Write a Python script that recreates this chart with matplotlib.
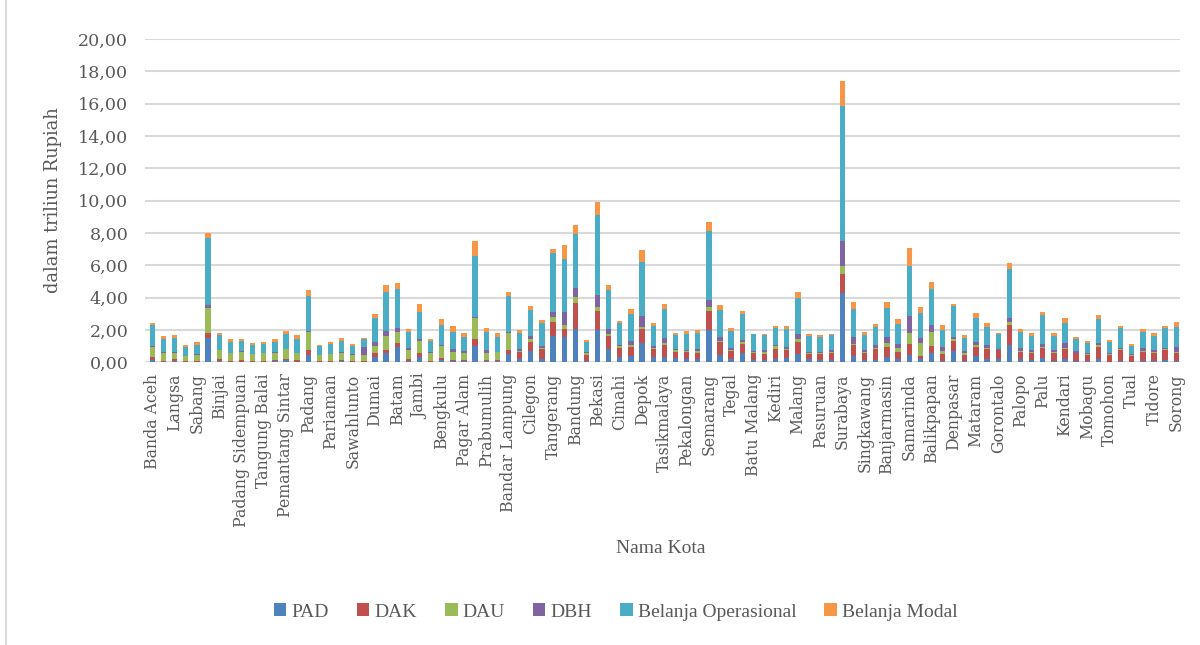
import matplotlib
matplotlib.use("Agg")
import matplotlib.pyplot as plt
from matplotlib.lines import Line2D
from matplotlib.font_manager import FontProperties
import numpy as np

# city names printed on the axis (every second bar carries a label)
kota = ["Banda Aceh", "Langsa", "Sabang", "Binjai", "Padang Sidempuan",
        "Tangung Balai", "Pemantang Sintar", "Padang", "Pariaman", "Sawahlunto",
        "Dumai", "Batam", "Jambi", "Bengkulu", "Pagar Alam", "Prabumulih",
        "Bandar Lampung", "Cilegon", "Tangerang", "Bandung", "Bekasi", "Cimahi",
        "Depok", "Tasikmalaya", "Pekalongan", "Semarang", "Tegal", "Batu Malang",
        "Kediri", "Malang", "Pasuruan", "Surabaya", "Singkawang", "Banjarmasin",
        "Samarinda", "Balikpapan", "Denpasar", "Mataram", "Gorontalo", "Palopo",
        "Palu", "Kendari", "Mobagu", "Tomohon", "Tual", "Tidore", "Sorong"]

# values in trillion rupiah, one entry per city bar (93 bars)
pad = [0.15, 0.03, 0.10, 0.02, 0.03, 1.48, 0.10, 0.02, 0.04, 0.03,
       0.04, 0.05, 0.14, 0.04, 0.47, 0.02, 0.02, 0.07, 0.03, 0.03,
       0.35, 0.58, 0.95, 0.10, 0.33, 0.04, 0.14, 0.06, 0.08, 1.00,
       0.08, 0.10, 0.52, 0.19, 0.68, 0.19, 1.65, 1.55, 2.04, 0.10,
       2.02, 0.85, 0.35, 0.41, 1.18, 0.33, 0.33, 0.29, 0.19, 0.19,
       2.02, 0.45, 0.23, 0.56, 0.12, 0.14, 0.23, 0.25, 0.49, 0.19,
       0.12, 0.16, 4.27, 0.39, 0.14, 0.14, 0.31, 0.21, 0.45, 0.19,
       0.60, 0.08, 0.70, 0.06, 0.39, 0.19, 0.21, 1.05, 0.19, 0.14,
       0.25, 0.08, 0.19, 0.06, 0.06, 0.21, 0.04, 0.10, 0.04, 0.06,
       0.06, 0.14, 0.10]
dak = [0.20, 0.08, 0.10, 0.03, 0.06, 0.35, 0.10, 0.06, 0.10, 0.07,
       0.06, 0.08, 0.08, 0.08, 0.29, 0.04, 0.06, 0.08, 0.05, 0.04,
       0.20, 0.18, 0.25, 0.10, 0.27, 0.06, 0.14, 0.10, 0.08, 0.47,
       0.08, 0.06, 0.25, 0.45, 0.60, 0.62, 0.85, 0.54, 1.63, 0.37,
       1.18, 0.80, 0.56, 0.56, 0.87, 0.47, 0.74, 0.37, 0.45, 0.41,
       1.18, 0.78, 0.47, 0.60, 0.45, 0.39, 0.62, 0.49, 0.78, 0.33,
       0.41, 0.41, 1.22, 0.70, 0.45, 0.68, 0.66, 0.45, 0.68, 0.23,
       0.43, 0.43, 0.62, 0.41, 0.56, 0.62, 0.52, 1.26, 0.45, 0.45,
       0.66, 0.49, 0.64, 0.49, 0.37, 0.76, 0.41, 0.66, 0.33, 0.58,
       0.54, 0.60, 0.45]
dau = [0.58, 0.45, 0.40, 0.35, 0.37, 1.55, 0.56, 0.50, 0.52, 0.42,
       0.46, 0.44, 0.60, 0.45, 1.09, 0.39, 0.43, 0.45, 0.39, 0.41,
       0.45, 0.87, 0.66, 0.54, 0.72, 0.45, 0.72, 0.50, 0.39, 1.30,
       0.43, 0.45, 1.05, 0.04, 0.16, 0.10, 0.31, 0.23, 0.37, 0.10,
       0.21, 0.10, 0.10, 0.10, 0.16, 0.10, 0.12, 0.08, 0.04, 0.10,
       0.21, 0.10, 0.06, 0.08, 0.04, 0.10, 0.14, 0.10, 0.16, 0.06,
       0.06, 0.06, 0.45, 0.04, 0.04, 0.06, 0.23, 0.21, 0.66, 0.76,
       0.85, 0.19, 0.12, 0.08, 0.12, 0.06, 0.02, 0.19, 0.04, 0.04,
       0.06, 0.04, 0.08, 0.04, 0.06, 0.08, 0.04, 0.06, 0.06, 0.04,
       0.04, 0.06, 0.10]
dbh = [0.05, 0.05, 0.04, 0.02, 0.04, 0.16, 0.02, 0.02, 0.02, 0.02,
       0.02, 0.04, 0.03, 0.02, 0.06, 0.03, 0.03, 0.04, 0.04, 0.45,
       0.23, 0.31, 0.29, 0.12, 0.10, 0.06, 0.04, 0.16, 0.16, 0.02,
       0.19, 0.04, 0.06, 0.12, 0.21, 0.12, 0.27, 0.82, 0.58, 0.04,
       0.76, 0.29, 0.08, 0.27, 0.68, 0.12, 0.29, 0.10, 0.10, 0.14,
       0.45, 0.25, 0.12, 0.14, 0.06, 0.12, 0.06, 0.12, 0.33, 0.06,
       0.06, 0.12, 1.59, 0.41, 0.14, 0.16, 0.37, 0.29, 1.09, 0.35,
       0.43, 0.27, 0.10, 0.12, 0.19, 0.21, 0.06, 0.25, 0.21, 0.12,
       0.19, 0.12, 0.29, 0.08, 0.08, 0.12, 0.06, 0.08, 0.06, 0.21,
       0.12, 0.08, 0.31]
belanja_operasional = [1.30, 0.83, 0.88, 0.52, 0.60, 4.16, 0.89, 0.68, 0.66, 0.55,
                       0.58, 0.65, 0.93, 0.82, 2.19, 0.52, 0.62, 0.70, 0.52, 0.52,
                       1.48, 2.43, 2.41, 1.01, 1.69, 0.70, 1.24, 1.07, 0.85, 3.81,
                       1.11, 0.93, 2.19, 0.99, 1.59, 1.38, 3.65, 3.24, 3.34, 0.62,
                       4.95, 2.43, 1.32, 1.65, 3.32, 1.24, 1.79, 0.82, 0.99, 0.95,
                       4.27, 1.65, 1.07, 1.63, 1.05, 0.91, 1.09, 1.07, 2.23, 0.99,
                       0.89, 0.93, 8.32, 1.73, 0.89, 1.13, 1.81, 1.20, 3.09, 1.51,
                       2.21, 1.03, 1.94, 0.85, 1.51, 1.13, 0.95, 3.05, 0.97, 0.89,
                       1.77, 0.91, 1.24, 0.76, 0.62, 1.53, 0.70, 1.20, 0.54, 0.99,
                       0.87, 1.26, 1.24]
belanja_modal = [0.17, 0.20, 0.19, 0.13, 0.16, 0.31, 0.12, 0.16, 0.10, 0.10,
                 0.08, 0.16, 0.18, 0.26, 0.37, 0.10, 0.11, 0.14, 0.10, 0.06,
                 0.27, 0.41, 0.33, 0.17, 0.47, 0.15, 0.38, 0.35, 0.25, 0.91,
                 0.25, 0.21, 0.29, 0.21, 0.25, 0.21, 0.27, 0.85, 0.56, 0.12,
                 0.80, 0.31, 0.12, 0.31, 0.72, 0.14, 0.35, 0.14, 0.16, 0.21,
                 0.56, 0.31, 0.16, 0.19, 0.06, 0.12, 0.10, 0.21, 0.35, 0.12,
                 0.12, 0.08, 1.57, 0.43, 0.21, 0.19, 0.35, 0.33, 1.09, 0.35,
                 0.45, 0.31, 0.10, 0.14, 0.25, 0.25, 0.06, 0.35, 0.23, 0.16,
                 0.21, 0.16, 0.33, 0.12, 0.14, 0.21, 0.12, 0.16, 0.12, 0.21,
                 0.16, 0.10, 0.31]

series = [("PAD", pad, "#4F81BD"),
          ("DAK", dak, "#C0504D"),
          ("DAU", dau, "#9BBB59"),
          ("DBH", dbh, "#8064A2"),
          ("Belanja Operasional", belanja_operasional, "#4BACC6"),
          ("Belanja Modal", belanja_modal, "#F79646")]

teks = "#595959"
serif_narrow = ["Liberation Serif", "DejaVu Serif"]

fig = plt.figure(figsize=(12, 6.45), dpi=100)
ax = fig.add_axes([0.1208, 0.4383, 0.8622, 0.5014])

x = np.arange(len(pad))
bottom = np.zeros(len(pad))
for nama, nilai, warna in series:
    nilai = np.array(nilai)
    ax.bar(x, nilai, width=0.48, bottom=bottom, color=warna, label=nama,
           linewidth=0, zorder=3)
    bottom += nilai

ax.set_ylim(0, 20)
ax.set_xlim(-0.67, 92.3)
yticks = np.arange(0, 21, 2)
ax.set_yticks(yticks)
ax.set_yticklabels([("%.2f" % v).replace(".", ",") for v in yticks],
                   fontsize=12.6, family="DejaVu Serif", color=teks)
ax.set_xticks(x[::2])
ax.set_xticklabels(kota, rotation=90, fontsize=11.3, family="DejaVu Serif",
                   color=teks)
ax.tick_params(axis="both", length=0)
ax.tick_params(axis="y", pad=12)
ax.tick_params(axis="x", pad=8)

ax.grid(axis="y", color="#D9D9D9", linewidth=1.5, zorder=0)
for side in ["top", "right", "left", "bottom"]:
    ax.spines[side].set_visible(False)

fig.text(0.044, 0.69, "dalam triliun Rupiah", rotation=90, ha="center",
         va="center", fontsize=12.9, family="DejaVu Serif", color=teks)
fig.text(0.551, 0.150, "Nama Kota", ha="center", va="center", fontsize=14,
         family=serif_narrow, color=teks)

ax.legend(loc="center", bbox_to_anchor=(0.513, 0.051),
          bbox_transform=fig.transFigure, ncol=6, frameon=False,
          handlelength=0.65, handleheight=0.65, handletextpad=0.25,
          columnspacing=1.45,
          prop=FontProperties(family=serif_narrow, size=14),
          labelcolor=teks)

# thin frame line on the left edge of the chart area
fig.add_artist(Line2D([0.005, 0.005], [0, 1], transform=fig.transFigure,
                      color="#D9D9D9", linewidth=1.5))

fig.savefig("out.png", dpi=100, facecolor="white")
